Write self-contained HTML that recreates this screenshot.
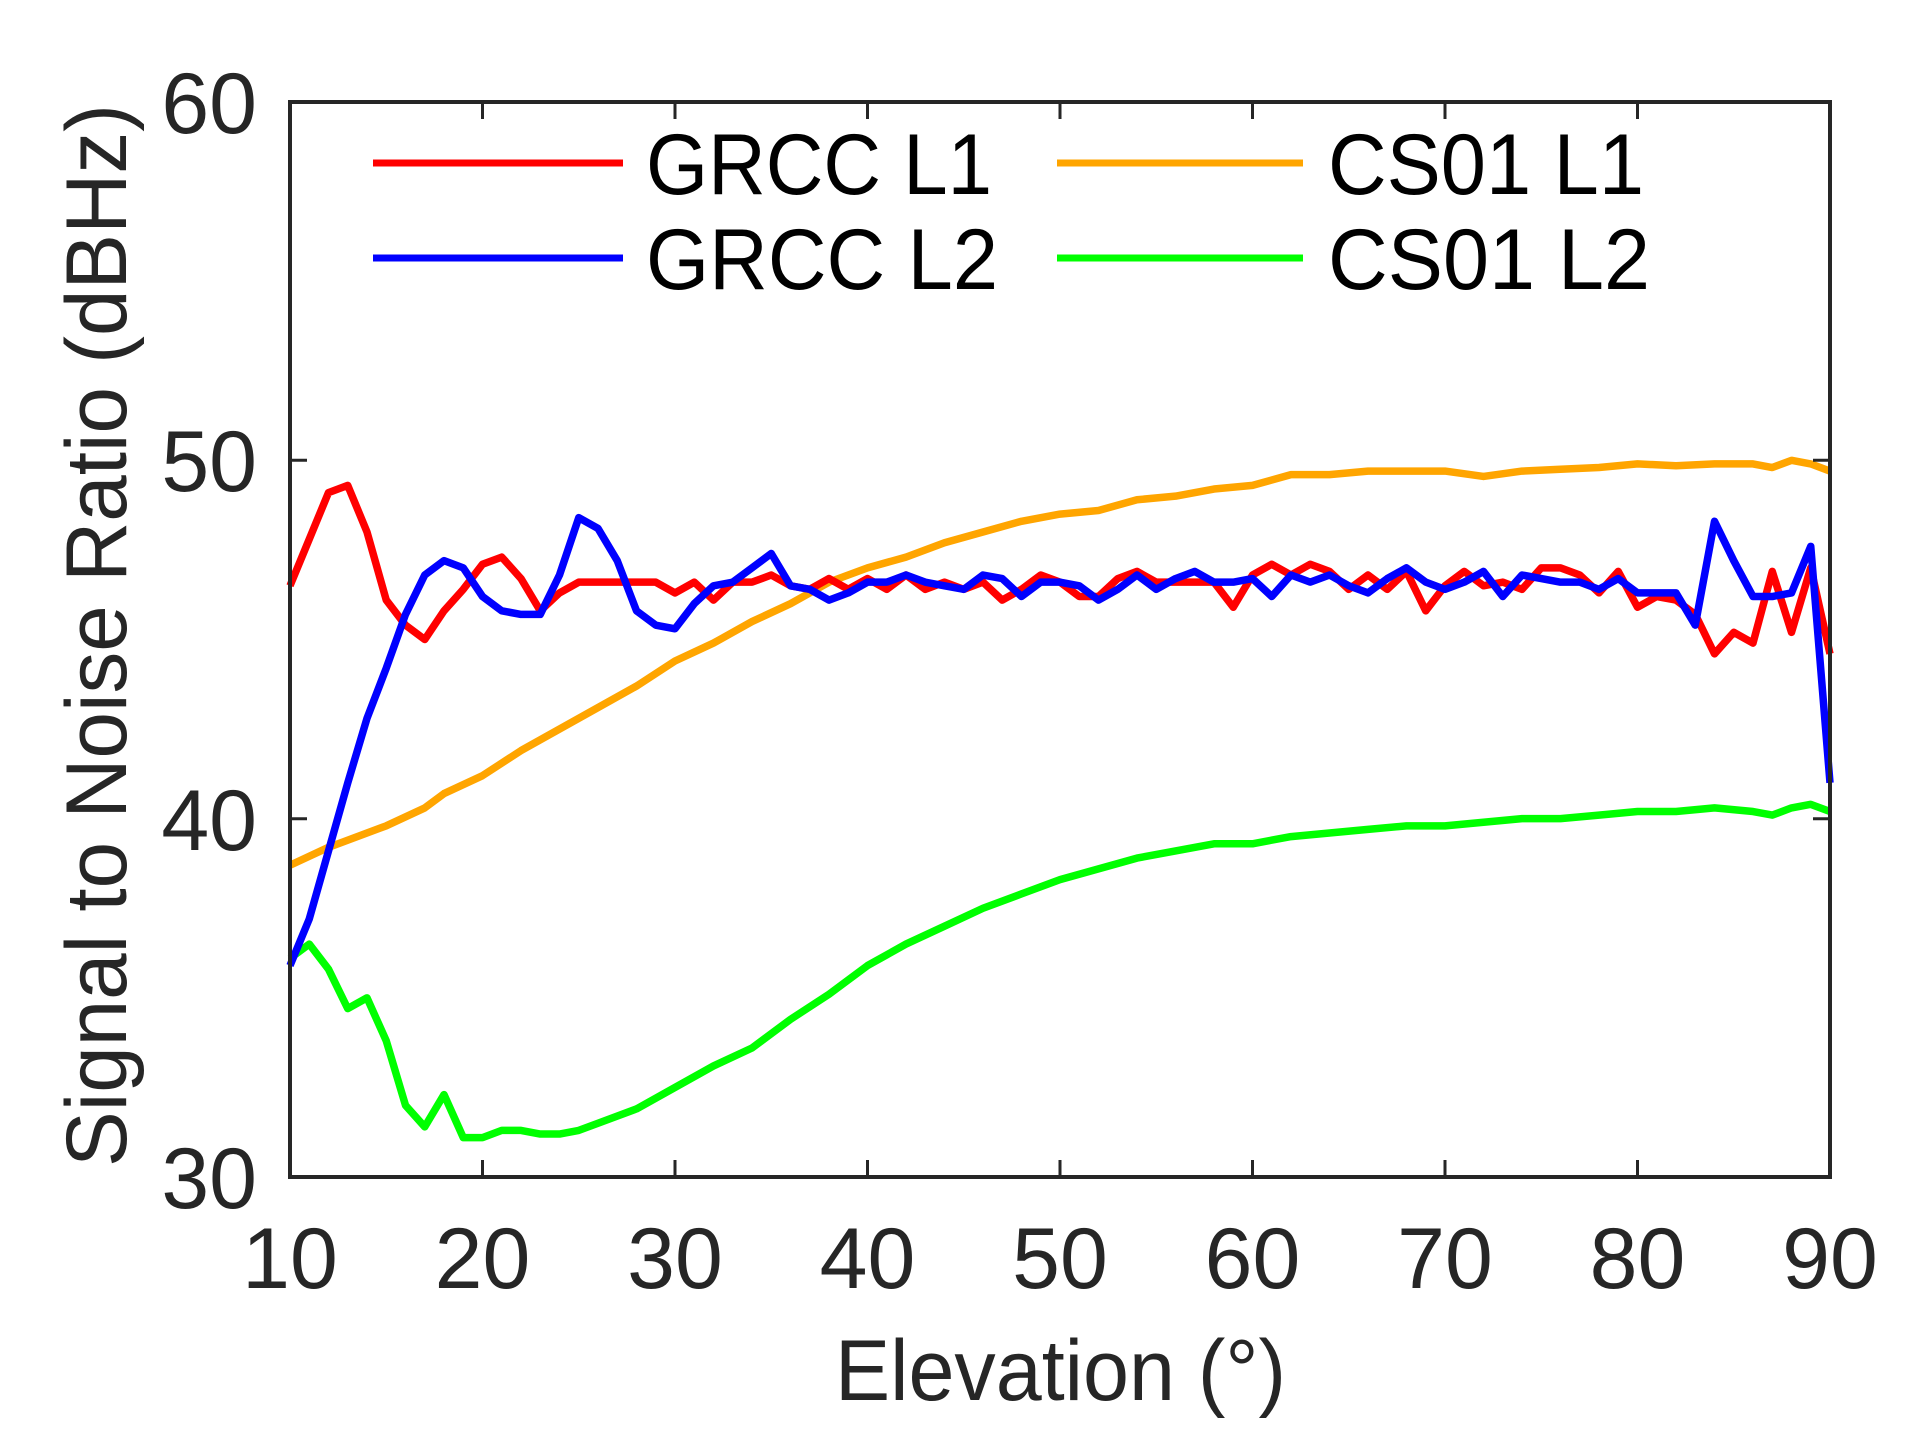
<!DOCTYPE html>
<html><head><meta charset="utf-8"><style>
html,body{margin:0;padding:0;background:#fff}
svg{display:block}
text{font-family:"Liberation Sans",Arial,sans-serif;fill:#262626}
</style></head><body>
<svg width="1917" height="1442" viewBox="0 0 1917 1442" xmlns="http://www.w3.org/2000/svg">
<rect width="1917" height="1442" fill="#fff"/>
<g transform="translate(97.5,2252) scale(19.25,-35.8333)" fill="none" stroke-linejoin="round">
<polyline vector-effect="non-scaling-stroke" stroke="#ffa500" stroke-width="7.5" points="10,38.7 12,39.2 15,39.8 17,40.3 18,40.7 20,41.2 22,41.9 24,42.5 26,43.1 28,43.7 30,44.4 32,44.9 34,45.5 36,46 38,46.6 40,47 42,47.3 44,47.7 46,48 48,48.3 50,48.5 52,48.6 54,48.9 56,49 58,49.2 60,49.3 62,49.6 64,49.6 66,49.7 68,49.7 70,49.7 72,49.55 74,49.7 76,49.75 78,49.8 80,49.9 82,49.85 84,49.9 86,49.9 87,49.8 88,50 89,49.9 90,49.7"/>
<polyline vector-effect="non-scaling-stroke" stroke="#00ff00" stroke-width="7.5" points="10,36.1 11,36.5 12,35.8 13,34.7 14,35 15,33.8 16,32 17,31.4 18,32.3 19,31.1 20,31.1 21,31.3 22,31.3 23,31.2 24,31.2 25,31.3 26,31.5 28,31.9 30,32.5 32,33.1 34,33.6 36,34.4 38,35.1 40,35.9 42,36.5 44,37 46,37.5 48,37.9 50,38.3 52,38.6 54,38.9 56,39.1 58,39.3 60,39.3 62,39.5 64,39.6 66,39.7 68,39.8 70,39.8 72,39.9 74,40 76,40 78,40.1 80,40.2 82,40.2 84,40.3 86,40.2 87,40.1 88,40.3 89,40.4 90,40.2"/>
<polyline vector-effect="non-scaling-stroke" stroke="#ff0000" stroke-width="7.5" points="10,46.5 11,47.8 12,49.1 13,49.3 14,48 15,46.1 16,45.4 17,45 18,45.8 19,46.4 20,47.1 21,47.3 22,46.7 23,45.8 24,46.3 25,46.6 26,46.6 27,46.6 28,46.6 29,46.6 30,46.3 31,46.6 32,46.1 33,46.6 34,46.6 35,46.8 36,46.5 37,46.4 38,46.7 39,46.4 40,46.7 41,46.4 42,46.8 43,46.4 44,46.6 45,46.4 46,46.6 47,46.1 48,46.4 49,46.8 50,46.6 51,46.2 52,46.2 53,46.7 54,46.9 55,46.6 56,46.6 57,46.6 58,46.6 59,45.9 60,46.8 61,47.1 62,46.8 63,47.1 64,46.9 65,46.4 66,46.8 67,46.4 68,46.9 69,45.8 70,46.5 71,46.9 72,46.5 73,46.6 74,46.4 75,47 76,47 77,46.8 78,46.3 79,46.9 80,45.9 81,46.2 82,46.1 83,45.7 84,44.6 85,45.2 86,44.9 87,46.9 88,45.2 89,47 90,44.6"/>
<polyline vector-effect="non-scaling-stroke" stroke="#0000ff" stroke-width="7.5" points="10,35.9 11,37.2 12,39.1 13,41 14,42.8 15,44.2 16,45.7 17,46.8 18,47.2 19,47 20,46.2 21,45.8 22,45.7 23,45.7 24,46.8 25,48.4 26,48.1 27,47.2 28,45.8 29,45.4 30,45.3 31,46 32,46.5 33,46.6 34,47 35,47.4 36,46.5 37,46.4 38,46.1 39,46.3 40,46.6 41,46.6 42,46.8 43,46.6 44,46.5 45,46.4 46,46.8 47,46.7 48,46.2 49,46.6 50,46.6 51,46.5 52,46.1 53,46.4 54,46.8 55,46.4 56,46.7 57,46.9 58,46.6 59,46.6 60,46.7 61,46.2 62,46.8 63,46.6 64,46.8 65,46.5 66,46.3 67,46.7 68,47 69,46.6 70,46.4 71,46.6 72,46.9 73,46.2 74,46.8 75,46.7 76,46.6 77,46.6 78,46.4 79,46.7 80,46.3 81,46.3 82,46.3 83,45.4 84,48.3 85,47.2 86,46.2 87,46.2 88,46.3 89,47.6 90,41"/>
</g>
<rect x="290" y="102" width="1540" height="1075" fill="none" stroke="#262626" stroke-width="4"/>
<g stroke="#262626" stroke-width="3">
<path d="M482.5,1177v-17M675,1177v-17M867.5,1177v-17M1060,1177v-17M1252.5,1177v-17M1445,1177v-17M1637.5,1177v-17"/>
<path d="M482.5,102v17M675,102v17M867.5,102v17M1060,102v17M1252.5,102v17M1445,102v17M1637.5,102v17"/>
<path d="M290,460.3h17M290,818.7h17M1830,460.3h-17M1830,818.7h-17"/>
</g>
<g font-size="86" text-anchor="end">
<text x="257" y="133">60</text>
<text x="257" y="491">50</text>
<text x="257" y="850">40</text>
<text x="257" y="1208">30</text>
</g>
<g font-size="86" text-anchor="middle">
<text x="290" y="1288">10</text>
<text x="482.5" y="1288">20</text>
<text x="675" y="1288">30</text>
<text x="867.5" y="1288">40</text>
<text x="1060" y="1288">50</text>
<text x="1252.5" y="1288">60</text>
<text x="1445" y="1288">70</text>
<text x="1637.5" y="1288">80</text>
<text x="1830" y="1288">90</text>
</g>
<text x="835" y="1400" font-size="86" textLength="451" lengthAdjust="spacingAndGlyphs">Elevation (°)</text>
<text transform="translate(126,1167) rotate(-90)" font-size="86" textLength="1063" lengthAdjust="spacingAndGlyphs">Signal to Noise Ratio (dBHz)</text>
<g stroke-width="7">
<line x1="373" y1="163" x2="623" y2="163" stroke="#ff0000"/>
<line x1="373" y1="258" x2="623" y2="258" stroke="#0000ff"/>
<line x1="1057" y1="163" x2="1303" y2="163" stroke="#ffa500"/>
<line x1="1057" y1="258" x2="1303" y2="258" stroke="#00ff00"/>
</g>
<g font-size="86">
<text x="646" y="194" textLength="346" lengthAdjust="spacingAndGlyphs" style="fill:#000">GRCC L1</text>
<text x="646" y="289" textLength="352" lengthAdjust="spacingAndGlyphs" style="fill:#000">GRCC L2</text>
<text x="1328" y="194" textLength="316" lengthAdjust="spacingAndGlyphs" style="fill:#000">CS01 L1</text>
<text x="1328" y="289" textLength="322" lengthAdjust="spacingAndGlyphs" style="fill:#000">CS01 L2</text>
</g>
</svg>
</body></html>
